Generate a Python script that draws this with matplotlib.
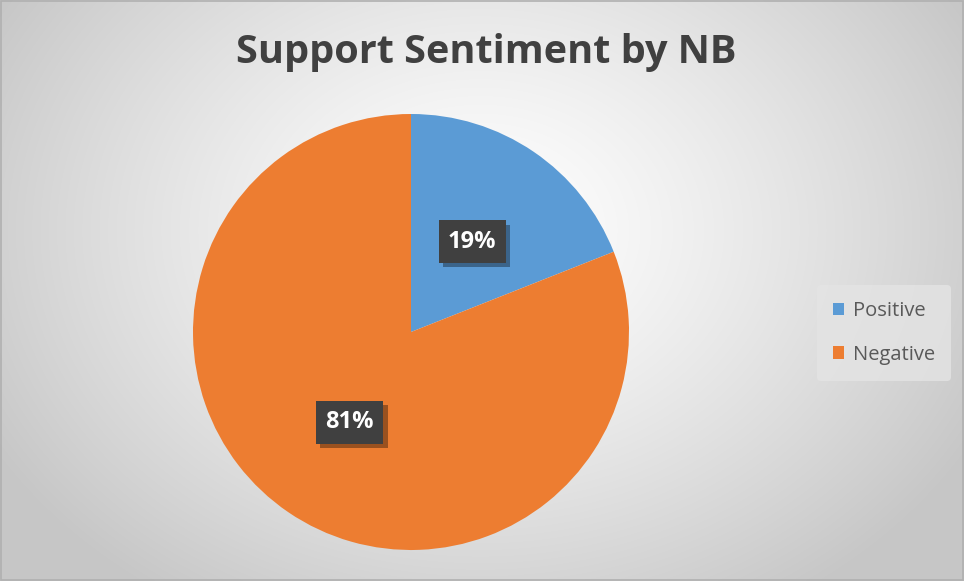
import numpy as np
import matplotlib
matplotlib.use("Agg")
import matplotlib.pyplot as plt
from matplotlib.patches import Rectangle
import matplotlib.patheffects as pe

categories = ["Positive", "Negative"]
values = [19, 81]
colors = ["#5B9BD5", "#ED7D31"]
title = "Support Sentiment by NB"

W, H = 964, 581
fig = plt.figure(figsize=(W / 100, H / 100), dpi=100)

# radial gradient background
bg = fig.add_axes([0, 0, 1, 1])
yy, xx = np.mgrid[0:H, 0:W]
cx, cy = 480, 230
r = np.sqrt(((xx - cx) / 560) ** 2 + ((yy - cy) / 440) ** 2)
r = np.clip(r, 0, 1)
val = 1.0 - 0.22 * r ** 1.3
img = np.dstack([val, val, val])
bg.imshow(img, extent=[0, W, H, 0], aspect="auto")
bg.add_patch(Rectangle((0.5, 0.5), W - 1.5, H - 1.5, fill=False, ec="#b0b0b0", lw=1.2))
bg.set_xlim(0, W)
bg.set_ylim(H, 0)
bg.axis("off")

# pie
pcx, pcy, R = 411, 332, 218
ax = fig.add_axes([(pcx - R) / W, (H - pcy - R) / H, 2 * R / W, 2 * R / H])
wedges, _ = ax.pie(values, colors=colors, startangle=90, counterclock=False,
                   radius=1.0, wedgeprops=dict(linewidth=0))
ax.set_xlim(-1, 1)
ax.set_ylim(-1, 1)
ax.set_aspect("equal")
ax.axis("off")

total = sum(values)
start = 90.0
for v in values:
    ang = start - 360 * v / total / 2
    start -= 360 * v / total
    x, y = 0.5 * np.cos(np.radians(ang)), 0.5 * np.sin(np.radians(ang))
    t = ax.text(x, y, f"{v}%", ha="center", va="center", fontsize=17,
                fontweight="bold", family="Open Sans", color="white",
                bbox=dict(boxstyle="square,pad=0.4", fc="#404040", ec="none"))
    t.get_bbox_patch().set_path_effects([
        pe.SimplePatchShadow(offset=(3, -3), shadow_rgbFace="black", alpha=0.35),
        pe.Normal()])

# title
fig.text(486 / W, 1 - 53 / H, title, ha="center", va="center", fontsize=28.5,
         fontweight="bold", family="Open Sans", color="#404040")

# legend
leg = fig.legend(wedges, categories, loc="center", bbox_to_anchor=(884 / W, 1 - 333 / H),
                 frameon=True, handlelength=0.55, handleheight=0.55,
                 labelspacing=1.15, handletextpad=0.45, borderpad=0.8,
                 prop={"family": "Open Sans", "size": 14.5})
leg.get_frame().set_facecolor("#e4e4e4")
leg.get_frame().set_edgecolor("none")
leg.get_frame().set_alpha(0.8)
for t in leg.get_texts():
    t.set_color("#595959")

fig.savefig("out.png", dpi=100)
